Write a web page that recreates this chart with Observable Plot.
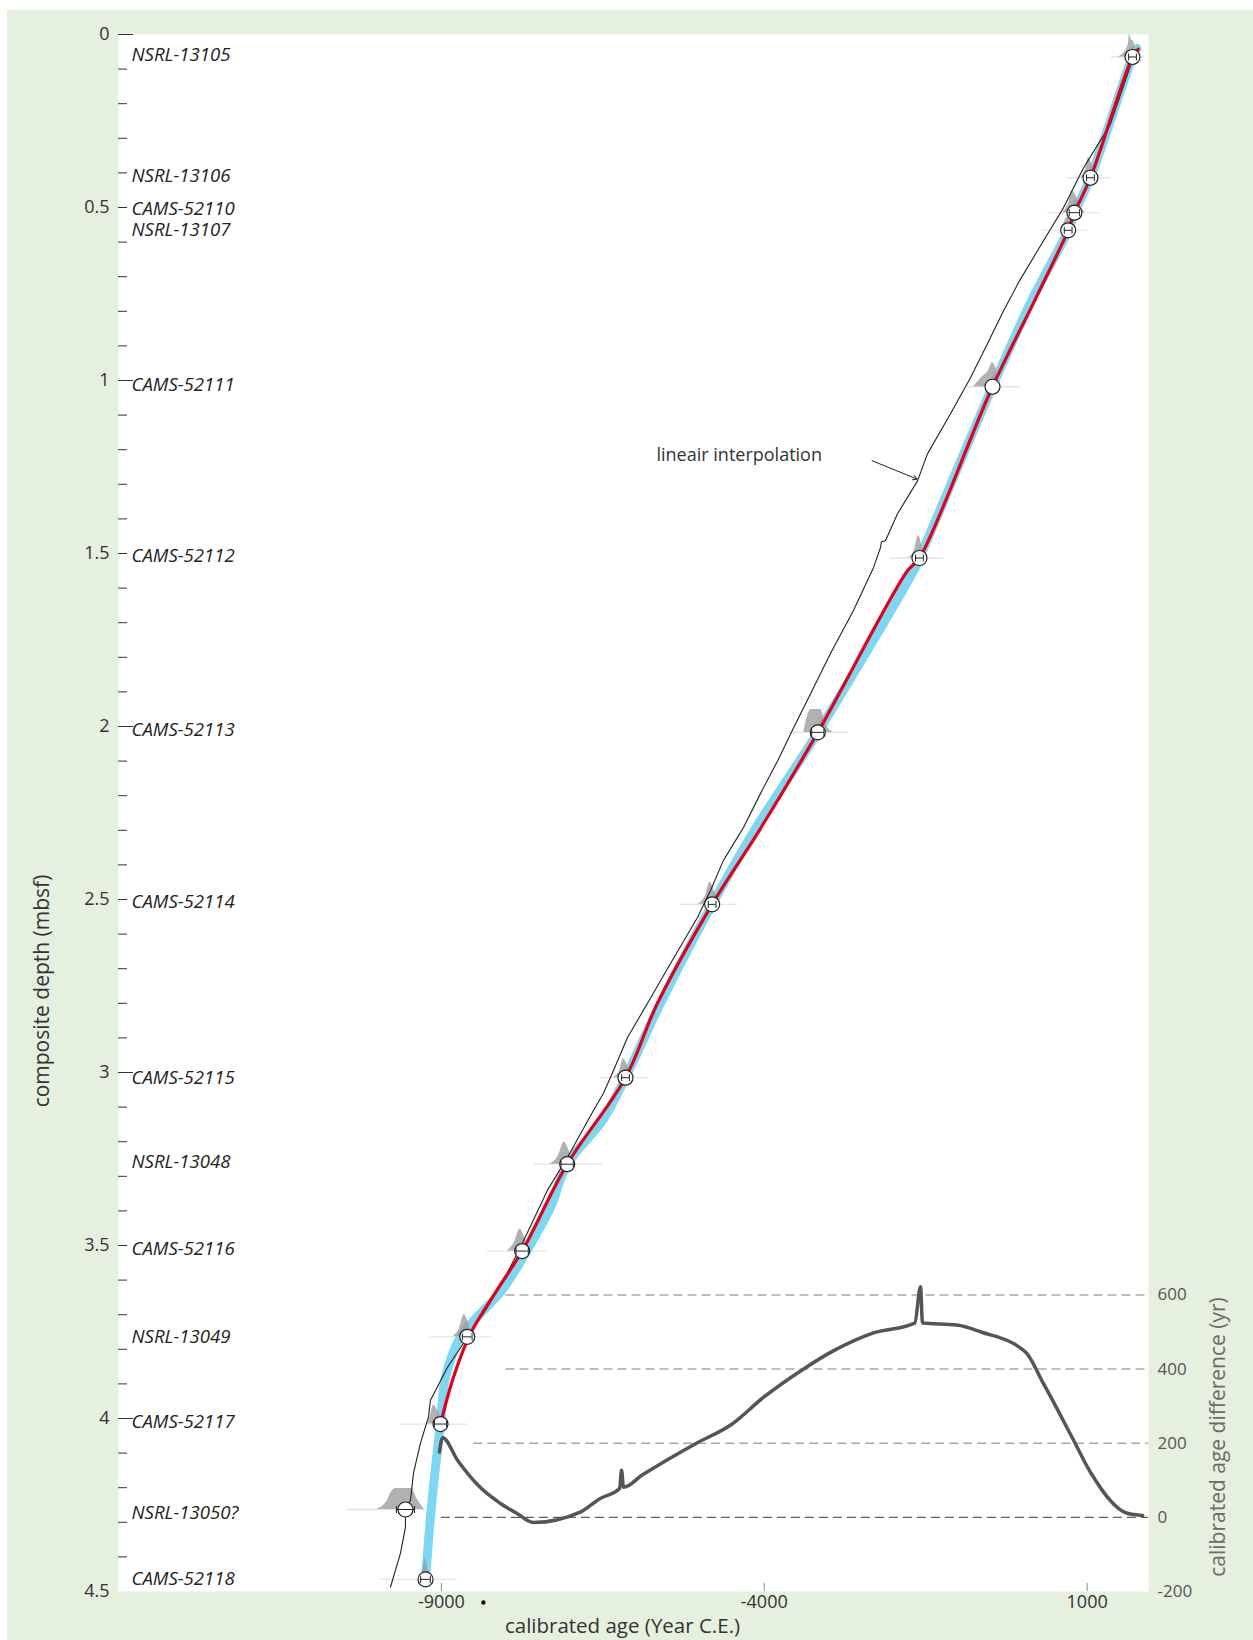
<!DOCTYPE html>
<html>
<head>
<meta charset="utf-8">
<script src="https://cdn.jsdelivr.net/npm/d3@7"></script>
<script src="https://cdn.jsdelivr.net/npm/@observablehq/plot@0.6"></script>
<style>
  html, body { margin: 0; padding: 0; background: #ffffff; }
  #figure { position: relative; width: 1253px; height: 1640px; overflow: hidden; }
  #panel { position: absolute; left: 7px; top: 10px; right: 0; bottom: 0; background: #e6f0df; }
  #depth, #offset { position: absolute; left: 0; top: 0; }
  #offset { pointer-events: none; }
</style>
</head>
<body>
<div id="figure">
  <div id="panel"></div>
  <div id="depth"></div>
  <div id="offset"></div>
</div>
<script>
// ---------------------------------------------------------------------------
// Radiocarbon samples: label, composite depth (m), calibrated age (yr C.E.),
// half-width of the error bar (yr), depth at which the label is written (m)
// ---------------------------------------------------------------------------
const labId = ["NSRL-13105", "NSRL-13106", "CAMS-52110", "NSRL-13107", "CAMS-52111",
  "CAMS-52112", "CAMS-52113", "CAMS-52114", "CAMS-52115", "NSRL-13048",
  "CAMS-52116", "NSRL-13049", "CAMS-52117", "NSRL-13050?", "CAMS-52118"];
const sampleDepth = [0.065, 0.414, 0.515, 0.566, 1.018, 1.513, 2.017, 2.514, 3.015, 3.265,
  3.516, 3.764, 4.016, 4.263, 4.465];
const sampleAge = [1702, 1051, 803, 706, -466, -1597, -3171, -4807, -6149, -7052,
  -7749, -8600, -9014, -9556, -9246];
const sampleErr = [60, 60, 80, 60, 0, 60, 95, 60, 60, 95, 95, 75, 95, 140, 75];
const labelDepth = [0.065, 0.414, 0.509, 0.572, 1.018, 1.513, 2.017, 2.514, 3.021, 3.265,
  3.516, 3.770, 4.016, 4.278, 4.471];

// Calibrated probability mound of each sample: [offset from age (yr), height (m)]
const moundProfiles = [
  [[-232, 0], [-124, 0.014], [-62, 0.040], [-46, 0.066], [-15, 0.049], [15, 0.046], [46, 0.023], [77, 0]],
  [[-155, 0], [-77, 0.023], [-31, 0.058], [31, 0.035], [77, 0.009], [108, 0]],
  [[-186, 0], [-93, 0.026], [-31, 0.064], [31, 0.046], [93, 0.017], [170, 0]],
  [[-124, 0], [-62, 0.023], [-15, 0.038], [46, 0.017], [93, 0]],
  [[-294, 0], [-170, 0.026], [-62, 0.046], [0, 0.069], [62, 0.046], [93, 0]],
  [[-170, 0], [-77, 0.023], [-15, 0.064], [31, 0.040], [62, 0]],
  [[-217, 0], [-139, 0.058], [-108, 0.066], [46, 0.066], [124, 0.023], [248, 0]],
  [[-232, 0], [-108, 0.023], [-31, 0.064], [31, 0.040], [108, 0]],
  [[-186, 0], [-93, 0.020], [-31, 0.055], [31, 0.035], [108, 0]],
  [[-279, 0], [-139, 0.023], [-46, 0.064], [15, 0.046], [77, 0.014], [155, 0]],
  [[-232, 0], [-124, 0.023], [-31, 0.064], [31, 0.043], [93, 0.014], [155, 0]],
  [[-232, 0], [-124, 0.023], [-46, 0.064], [15, 0.043], [62, 0.012], [108, 0]],
  [[-201, 0], [-155, 0.023], [-108, 0.055], [-46, 0.040], [31, 0.012], [108, 0]],
  [[-449, 0], [-310, 0.017], [-186, 0.058], [-139, 0.061], [93, 0.061], [186, 0.029], [294, 0]],
  [[-77, 0], [-31, 0.035], [0, 0.061], [31, 0.035], [77, 0]]
];
// Faint low-probability tails of each distribution: [from, to] offsets (yr)
const tailSpan = [[-325, 186], [-356, 310], [-418, 403], [-387, 310], [-403, 434],
  [-449, 372], [-480, 480], [-496, 387], [-387, 356], [-511, 542],
  [-542, 387], [-588, 387], [-620, 418], [-898, 310], [-697, 496]];

// Age-depth model (blue band)
const blueYear = [1770, 1702, 1051, 803, 706, 153, -466, -1597, -1689, -3171, -4136, -4807,
  -5607, -6149, -6505, -7052, -7310, -7682, -8060, -8704, -8936, -9014, -9091, -9169, -9246];
const blueDepth = [0.040, 0.065, 0.414, 0.515, 0.566, 0.764, 1.018, 1.513, 1.550, 2.017, 2.295, 2.514,
  2.800, 3.015, 3.139, 3.265, 3.390, 3.517, 3.629, 3.765, 3.881, 4.016, 4.141, 4.285, 4.465];

// Age-depth model (red curve)
const redYear = [1790, 1702, 1051, 803, 706, 200, -466, -1597, -1782, -3171, -4059, -4807,
  -5654, -6149, -7052, -7749, -8139, -8549, -8813, -9014];
const redDepth = [0.042, 0.065, 0.414, 0.515, 0.566, 0.764, 1.018, 1.513, 1.550, 2.017, 2.295, 2.514,
  2.800, 3.015, 3.265, 3.516, 3.629, 3.754, 3.881, 4.016];

// Linear interpolation between dated levels (thin black line)
const linYear = [1686, 1361, 943, 633, 324, -48, -296, -544, -807, -1116, -1473, -1627, -1937,
  -2123, -2185, -2200, -2309, -2619, -2975, -3335, -3544, -3790, -4059, -4322, -4632, -4833,
  -5034, -5452, -5808, -6118, -6335, -6490, -6645, -7047, -7357, -7775, -8038, -8286, -8596,
  -8905, -9169, -9200, -9324, -9432, -9478, -9556, -9556, -9633, -9788];
const linDepth = [0.082, 0.259, 0.386, 0.501, 0.596, 0.712, 0.799, 0.894, 0.992, 1.096, 1.212, 1.290, 1.385,
  1.463, 1.466, 1.483, 1.541, 1.665, 1.789, 1.925, 2.003, 2.098, 2.194, 2.292, 2.387, 2.474,
  2.552, 2.685, 2.800, 2.899, 2.994, 3.060, 3.110, 3.245, 3.340, 3.505, 3.600, 3.678, 3.765,
  3.852, 3.947, 3.996, 4.071, 4.158, 4.236, 4.259, 4.314, 4.389, 4.487];

// Calibrated age difference between the two models (right axis, yr)
const diffYear = [-9030, -8980, -8750, -8400, -8090, -7780, -7670, -7570, -6850, -6540, -6240,
  -6210, -6180, -5890, -5050, -4520, -4010, -3420, -2910, -2320, -1670, -1580, -1550, -1020,
  -640, 45, 320, 790, 1050, 1620, 1860];
const diffValue = [176, 215, 154, 81, 38, 5, -8, -14, 14, 51, 78, 127, 81, 114, 200, 249, 324,
  397, 451, 497, 524, 622, 524, 519, 500, 446, 362, 208, 122, 11, 5];

// Dashed reference levels of the difference axis and the age where each starts
const gridValue = [600, 400, 200, 0];
const gridFrom = [-8000, -8000, -8500, -9000];

// Axis ticks
const depthMinorTicks = [0.1, 0.2, 0.3, 0.4, 0.5, 0.6, 0.7, 0.8, 0.9, 1.1, 1.2, 1.3, 1.4, 1.5, 1.6,
  1.7, 1.8, 1.9, 2.1, 2.2, 2.3, 2.4, 2.5, 2.6, 2.7, 2.8, 2.9, 3.1, 3.2, 3.3, 3.4, 3.5, 3.6, 3.7,
  3.8, 3.9, 4.1, 4.2, 4.3, 4.4];
const depthMajorTicks = [0, 1, 2, 3, 4];
const depthTickLabels = [0, 0.5, 1, 1.5, 2, 2.5, 3, 3.5, 4, 4.5];
const ageTicks = [-9000, -4000, 1000];
const diffTicks = [-200, 0, 200, 400, 600];
const axisMarker = [-8350];

// Annotation of the black line
const noteText = ["lineair interpolation"];
const noteAt = [-5669, 1.215];
const noteArrow = [[-2329, 1.232], [-1632, 1.285]];

// ---------------------------------------------------------------------------
const W = 1253, H = 1640;
const frameMargins = {marginLeft: 118, marginRight: 105, marginTop: 34, marginBottom: 49};
const ageDomain = [-14000, 1950];
const font = "'Open Sans', 'Noto Sans', sans-serif";
const ink = "#2b2b2b";

const samples = labId.map((id, i) => ({id, depth: sampleDepth[i], age: sampleAge[i], err: sampleErr[i], labelDepth: labelDepth[i]}));
const mounds = samples.flatMap((s, i) =>
  moundProfiles[i].map(([dx, h]) => ({id: s.id, year: s.age + dx, base: s.depth, top: s.depth - h})));
const tails = samples.map((s, i) => ({depth: s.depth, x1: s.age + tailSpan[i][0], x2: s.age + tailSpan[i][1]}));
const rows = (xs, ys) => xs.map((x, i) => ({year: x, depth: ys[i]}));
const bars = samples.filter(s => s.err > 0);
const caps = bars.flatMap(s => [{depth: s.depth, year: s.age - s.err}, {depth: s.depth, year: s.age + s.err}]);

// vertical stroke used as the end cap of the error bars
const capSymbol = {draw(ctx, size) { const h = Math.sqrt(size / Math.PI); ctx.moveTo(0, -h); ctx.lineTo(0, h); }};

const depthPlot = Plot.plot({
  width: W, height: H, ...frameMargins,
  style: {background: "transparent", fontFamily: font, fontSize: "18px", color: ink, overflow: "visible"},
  x: {domain: ageDomain},
  y: {domain: [0, 4.5], reverse: true},
  marks: [
    Plot.frame({fill: "white", stroke: "none"}),
    Plot.ruleY(tails, {y: "depth", x1: "x1", x2: "x2", stroke: "#e4e4e4", strokeWidth: 1.3}),
    Plot.line(rows(blueYear, blueDepth), {x: "year", y: "depth", stroke: "#7dd6f2", strokeWidth: 9, curve: "catmull-rom"}),
    Plot.areaY(mounds, {x: "year", y1: "base", y2: "top", z: "id", fill: "#9b9b9b", fillOpacity: 0.78, curve: "monotone-x"}),
    Plot.line(rows(linYear, linDepth), {x: "year", y: "depth", stroke: "#222", strokeWidth: 1.1}),
    Plot.line(rows(redYear, redDepth), {x: "year", y: "depth", stroke: "#e3001b", strokeWidth: 3.2, curve: "catmull-rom"}),
    Plot.dot(samples, {x: "age", y: "depth", r: 7.5, fill: "white", stroke: "#222", strokeWidth: 1.2}),
    Plot.ruleY(bars, {y: "depth", x1: d => d.age - d.err, x2: d => d.age + d.err, stroke: "#222", strokeWidth: 1}),
    Plot.dot(caps, {x: "year", y: "depth", r: 3.5, symbol: capSymbol, fill: "none", stroke: "#222", strokeWidth: 1}),
    Plot.text(samples, {y: "labelDepth", text: "id", frameAnchor: "left", dx: 13, dy: -2, textAnchor: "start",
      lineAnchor: "middle", fontStyle: "italic", fontSize: 18.6, fill: "#222"}),
    Plot.text(noteText, {x: () => noteAt[0], y: () => noteAt[1], textAnchor: "start", lineAnchor: "middle", fontSize: 18, fill: "#333"}),
    Plot.arrow([noteArrow], {x1: d => d[0][0], y1: d => d[0][1], x2: d => d[1][0], y2: d => d[1][1],
      stroke: "#222", strokeWidth: 1, headLength: 7}),
    // depth axis: ticks drawn inward from the frame edge
    Plot.axisY(depthMinorTicks, {anchor: "left", tickSize: 9, dx: 9, fill: "none", stroke: "#333", label: null}),
    Plot.axisY(depthMajorTicks, {anchor: "left", tickSize: 15, dx: 15, fill: "none", stroke: "#333", label: null}),
    Plot.axisY(depthTickLabels, {anchor: "left", tickSize: 0, tickPadding: 9, stroke: "none", fill: "#333",
      fontSize: 18, tickFormat: d => String(d), label: null}),
    // age axis
    Plot.axisX(ageTicks, {anchor: "bottom", tickSize: 8, dy: -8, fill: "none", stroke: "#888", label: null}),
    Plot.axisX(ageTicks, {anchor: "bottom", tickSize: 0, tickPadding: 4, stroke: "none", fill: "#333",
      fontSize: 18, tickFormat: d => String(d), label: null}),
    Plot.dot(axisMarker, {x: d => d, frameAnchor: "bottom", dy: 11, r: 2.2, fill: "#111", stroke: "none"}),
    Plot.text(["composite depth (mbsf)"], {frameAnchor: "left", dx: -76, dy: 178, rotate: -90,
      textAnchor: "middle", lineAnchor: "middle", fontSize: 21, fill: "#333"}),
    Plot.text(["calibrated age (Year C.E.)"], {frameAnchor: "bottom", dx: -11, dy: 35,
      textAnchor: "middle", lineAnchor: "middle", fontSize: 20.5, fill: "#333"})
  ]
});
document.getElementById("depth").append(depthPlot);

const offsetPlot = Plot.plot({
  width: W, height: H, ...frameMargins,
  style: {background: "transparent", fontFamily: font, fontSize: "17px", color: "#555", overflow: "visible"},
  x: {domain: ageDomain, axis: null},
  y: {domain: [-200, 4000]},
  marks: [
    Plot.ruleY(gridValue.map((v, i) => ({v, from: gridFrom[i]})), {
      y: "v", x1: "from", x2: () => ageDomain[1],
      stroke: d => d.v === 0 ? "#5e5e5e" : "#a8a8a8", strokeWidth: d => d.v === 0 ? 1.2 : 1.5,
      strokeDasharray: "9,5"
    }),
    Plot.line(rows(diffYear, diffValue), {x: "year", y: "depth", stroke: "#555", strokeWidth: 3.5,
      strokeLinejoin: "round", curve: "monotone-x"}),
    Plot.axisY(diffTicks, {anchor: "right", tickSize: 0, tickPadding: 9, stroke: "none", fill: "#555",
      fontSize: 17, tickFormat: d => String(d), label: null}),
    Plot.text(["calibrated age difference (yr)"], {frameAnchor: "right", dx: 70, dy: 624, rotate: -90,
      textAnchor: "middle", lineAnchor: "middle", fontSize: 21, fill: "#6b6b6b"})
  ]
});
document.getElementById("offset").append(offsetPlot);
</script>
</body>
</html>
